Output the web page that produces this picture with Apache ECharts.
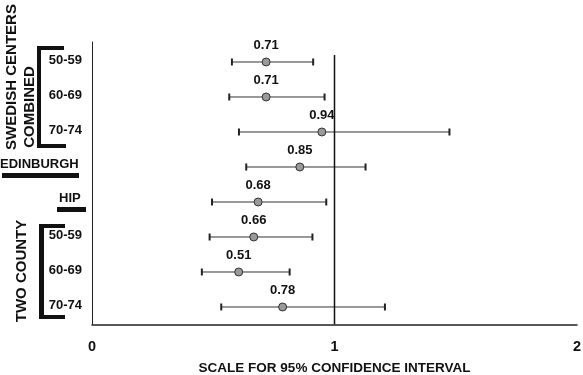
<!DOCTYPE html>
<html>
<head>
<meta charset="utf-8">
<script src="https://cdn.jsdelivr.net/npm/echarts@6/dist/echarts.min.js"></script>
<style>
  html, body { margin: 0; padding: 0; background: #fff; }
  #chart { width: 583px; height: 375px; }
</style>
</head>
<body>
<div id="chart"></div>
<script>
// rows from top to bottom
var ageLabels = ['50-59', '60-69', '70-74', '', '', '50-59', '60-69', '70-74'];
var ratioLabels = ['0.71', '0.71', '0.94', '0.85', '0.68', '0.66', '0.51', '0.78'];
// positions as drawn in the picture
var pointX = [0.718, 0.718, 0.948, 0.857, 0.685, 0.667, 0.605, 0.786];
var lowerCI = [0.577, 0.566, 0.606, 0.636, 0.495, 0.485, 0.453, 0.533];
var upperCI = [0.912, 0.959, 1.474, 1.128, 0.966, 0.909, 0.815, 1.208];
var xTicks = [0, 1, 2];

var font = '"Liberation Sans", Arial, Helvetica, sans-serif';
var rowY = function (i) { return 8 - i; };

var pointData = [], barData = [], ageData = [];
for (var i = 0; i < pointX.length; i++) {
  pointData.push([pointX[i], rowY(i)]);
  barData.push([rowY(i), lowerCI[i], upperCI[i]]);
  if (ageLabels[i]) ageData.push({ value: [0, rowY(i)], name: ageLabels[i] });
}

var chart = echarts.init(document.getElementById('chart'));
var option = {
  backgroundColor: '#fff',
  animation: false,
  grid: { left: 92, right: 6, top: 42, bottom: 50.5, outerBoundsMode: 'none' },
  xAxis: {
    type: 'value',
    min: 0,
    max: 2,
    interval: 1,
    name: 'SCALE FOR 95% CONFIDENCE INTERVAL',
    nameLocation: 'middle',
    nameGap: 37,
    nameTextStyle: { fontFamily: font, fontWeight: 'bold', fontSize: 13.5, color: '#111' },
    axisLine: { lineStyle: { color: '#222', width: 1.5 } },
    axisTick: { show: false },
    splitLine: { show: false },
    axisLabel: {
      margin: 15,
      fontFamily: font, fontWeight: 'bold', fontSize: 14.5, color: '#111',
      formatter: function (v) { return xTicks.indexOf(v) >= 0 ? String(v) : ''; }
    }
  },
  yAxis: {
    type: 'value',
    min: 0.5,
    max: 8.571,
    axisLine: { show: true, lineStyle: { color: '#222', width: 1 } },
    axisTick: { show: false },
    axisLabel: { show: false },
    splitLine: { show: false }
  },
  series: [
    {
      // reference line at 1
      type: 'line',
      data: [[1, 0.5], [1, 8.2]],
      symbol: 'none',
      lineStyle: { color: '#111', width: 1.5 },
      silent: true
    },
    {
      type: 'custom',
      data: barData,
      encode: { x: [1, 2], y: 0 },
      renderItem: function (params, api) {
        var y = api.value(0);
        var lo = api.coord([api.value(1), y]);
        var hi = api.coord([api.value(2), y]);
        var h = 3.5;
        return {
          type: 'group',
          children: [
            { type: 'line', shape: { x1: lo[0], y1: lo[1], x2: hi[0], y2: hi[1] }, style: { stroke: '#333', lineWidth: 1 } },
            { type: 'line', shape: { x1: lo[0], y1: lo[1] - h, x2: lo[0], y2: lo[1] + h }, style: { stroke: '#222', lineWidth: 2 } },
            { type: 'line', shape: { x1: hi[0], y1: hi[1] - h, x2: hi[0], y2: hi[1] + h }, style: { stroke: '#222', lineWidth: 2 } }
          ]
        };
      }
    },
    {
      type: 'scatter',
      data: pointData,
      symbol: 'circle',
      symbolSize: 8,
      itemStyle: { color: '#999', borderColor: '#333', borderWidth: 1, opacity: 1 },
      label: {
        show: true,
        position: 'top',
        distance: 6,
        fontFamily: font, fontWeight: 'bold', fontSize: 13, color: '#111',
        formatter: function (p) { return ratioLabels[p.dataIndex]; }
      },
      z: 5
    },
    {
      // age group labels left of the axis
      type: 'scatter',
      data: ageData,
      symbolSize: 0,
      clip: false,
      silent: true,
      itemStyle: { opacity: 1 },
      label: {
        show: true,
        position: 'left',
        distance: 10,
        offset: [0, -2],
        fontFamily: font, fontWeight: 'bold', fontSize: 13, color: '#111',
        formatter: function (p) { return p.name; }
      }
    }
  ],
  graphic: [
    { type: 'text', x: 12, y: 77, rotation: Math.PI / 2,
      style: { text: 'SWEDISH CENTERS', font: 'bold 15px ' + font, fill: '#111', textAlign: 'center', textVerticalAlign: 'middle' } },
    { type: 'text', x: 30, y: 107, rotation: Math.PI / 2,
      style: { text: 'COMBINED', font: 'bold 15px ' + font, fill: '#111', textAlign: 'center', textVerticalAlign: 'middle' } },
    { type: 'rect', shape: { x: 37, y: 46, width: 4, height: 102 }, style: { fill: '#111' } },
    { type: 'rect', shape: { x: 37, y: 46, width: 27, height: 4 }, style: { fill: '#111' } },
    { type: 'rect', shape: { x: 37, y: 144, width: 29, height: 4 }, style: { fill: '#111' } },

    { type: 'text', x: 0, y: 164,
      style: { text: 'EDINBURGH', font: 'bold 13px ' + font, fill: '#111', textAlign: 'left', textVerticalAlign: 'middle' } },
    { type: 'rect', shape: { x: 2, y: 173, width: 77, height: 5 }, style: { fill: '#111' } },

    { type: 'text', x: 59, y: 198,
      style: { text: 'HIP', font: 'bold 13px ' + font, fill: '#111', textAlign: 'left', textVerticalAlign: 'middle' } },
    { type: 'rect', shape: { x: 57, y: 207, width: 29, height: 5 }, style: { fill: '#111' } },

    { type: 'text', x: 22, y: 271, rotation: Math.PI / 2,
      style: { text: 'TWO COUNTY', font: 'bold 15px ' + font, fill: '#111', textAlign: 'center', textVerticalAlign: 'middle' } },
    { type: 'rect', shape: { x: 39, y: 224, width: 5, height: 95 }, style: { fill: '#111' } },
    { type: 'rect', shape: { x: 39, y: 224, width: 26, height: 4 }, style: { fill: '#111' } },
    { type: 'rect', shape: { x: 39, y: 315, width: 26, height: 4 }, style: { fill: '#111' } }
  ]
};
chart.setOption(option);
</script>
</body>
</html>
